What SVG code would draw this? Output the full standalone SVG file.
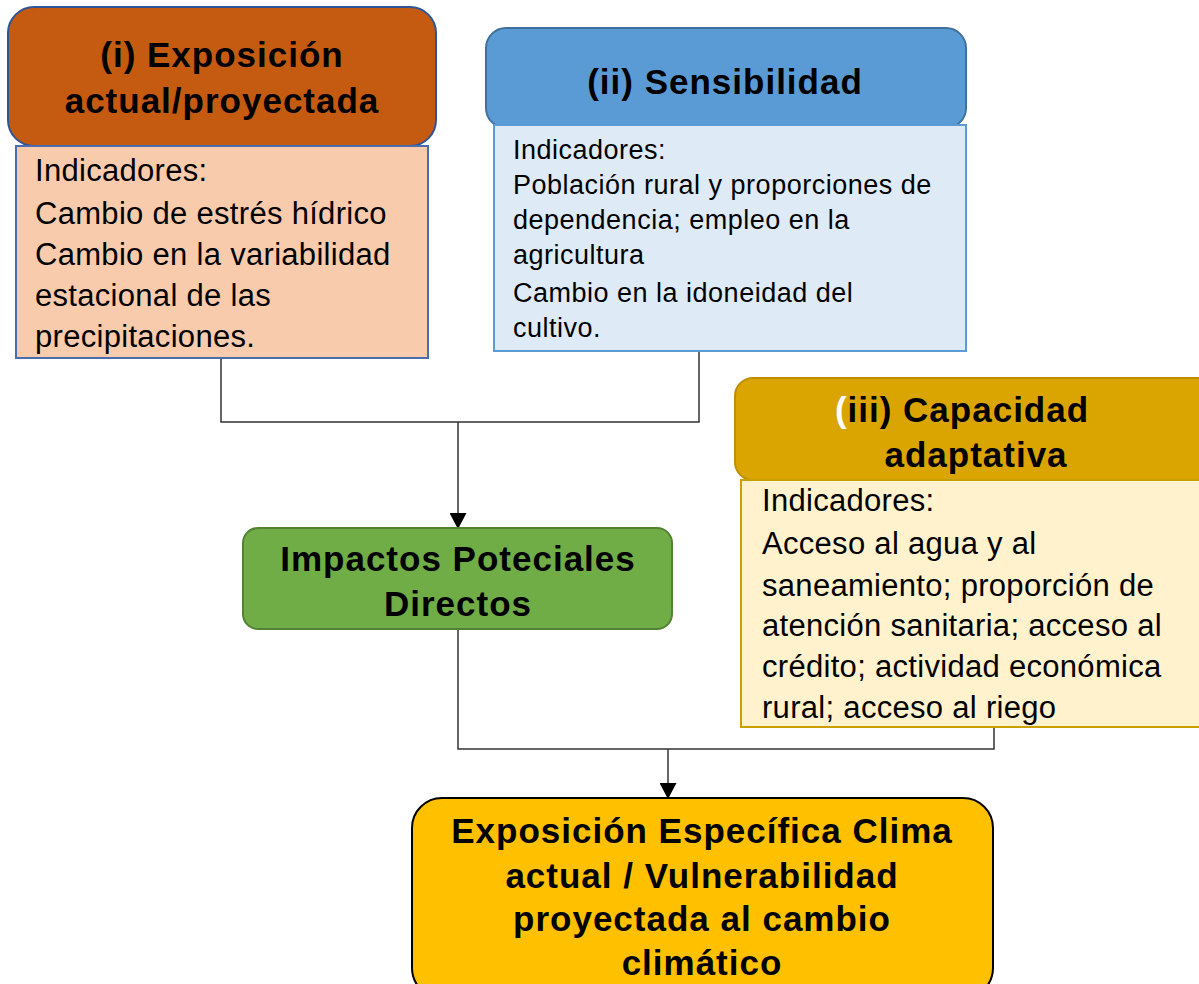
<svg xmlns="http://www.w3.org/2000/svg" width="1199" height="984" viewBox="0 0 1199 984">
<defs>
<marker id="arr" markerWidth="16" markerHeight="17" refX="16" refY="8.5" orient="auto" markerUnits="userSpaceOnUse" viewBox="0 0 16 17">
<path d="M0,0 L16,8.5 L0,17 Z" fill="#000"/>
</marker>
</defs>
<style>
.h{font-family:"Liberation Sans",Arial,sans-serif;font-weight:bold;font-size:35px;letter-spacing:1px;fill:#000;text-anchor:middle}
.b{font-family:"Liberation Sans",Arial,sans-serif;font-size:31px;letter-spacing:0.3px;fill:#000}
.b2{font-family:"Liberation Sans",Arial,sans-serif;font-size:27px;letter-spacing:0.5px;fill:#000}
.c{fill:none;stroke:#333;stroke-width:1.5}
</style>
<rect width="1199" height="984" fill="#fff"/>
<g id="connectors">
<polyline class="c" points="221,358 221,422 699,422 699,351"/>
<line class="c" x1="458" y1="422" x2="458" y2="529" stroke="#000" marker-end="url(#arr)"/>
<polyline class="c" points="458,629 458,749 994,749 994,727"/>
<line class="c" x1="668" y1="749" x2="668" y2="799" stroke="#000" marker-end="url(#arr)"/>
</g>
<g id="exposicion">
<rect x="8" y="7" width="428" height="139" rx="26" fill="#C55A11" stroke="#2F5597" stroke-width="2"/>
<rect x="16" y="146" width="412" height="212" fill="#F8CBAD" stroke="#4A6DAF" stroke-width="2"/>
<text class="h" x="222" y="67">(i) Exposición</text>
<text class="h" x="222" y="113">actual/proyectada</text>
<text class="b" x="35" y="181">Indicadores:</text>
<text class="b" x="35" y="224">Cambio de estrés hídrico</text>
<text class="b" x="35" y="265">Cambio en la variabilidad</text>
<text class="b" x="35" y="306">estacional de las</text>
<text class="b" x="35" y="347">precipitaciones.</text>
</g>
<g id="sensibilidad">
<rect x="486" y="28" width="480" height="100" rx="20" fill="#5B9BD5" stroke="#41719C" stroke-width="2"/>
<rect x="494" y="125" width="472" height="226" fill="#DEEBF7" stroke="#5B9BD5" stroke-width="2"/>
<text class="h" x="725" y="94">(ii) Sensibilidad</text>
<text class="b2" x="513" y="159">Indicadores:</text>
<text class="b2" x="513" y="194">Población rural y proporciones de</text>
<text class="b2" x="513" y="229">dependencia; empleo en la</text>
<text class="b2" x="513" y="264">agricultura</text>
<text class="b2" x="513" y="302">Cambio en la idoneidad del</text>
<text class="b2" x="513" y="337">cultivo.</text>
</g>
<g id="capacidad">
<rect x="735" y="378" width="490" height="102" rx="18" fill="#DAA500" stroke="#BF9000" stroke-width="2"/>
<rect x="741" y="480" width="480" height="247" fill="#FFF2CC" stroke="#C9A000" stroke-width="2"/>
<text class="h" x="962" y="422"><tspan fill="#fff">(</tspan>iii) Capacidad</text>
<text class="h" x="976" y="467">adaptativa</text>
<text class="b" x="762" y="511">Indicadores:</text>
<text class="b" x="762" y="554">Acceso al agua y al</text>
<text class="b" x="762" y="596">saneamiento; proporción de</text>
<text class="b" x="762" y="636">atención sanitaria; acceso al</text>
<text class="b" x="762" y="677">crédito; actividad económica</text>
<text class="b" x="762" y="718">rural; acceso al riego</text>
</g>
<g id="impactos">
<rect x="243" y="528" width="429" height="101" rx="15" fill="#70AD47" stroke="#548235" stroke-width="2"/>
<text class="h" x="458" y="571">Impactos Poteciales</text>
<text class="h" x="458" y="616">Directos</text>
</g>
<g id="vulnerabilidad">
<rect x="412" y="798" width="581" height="200" rx="30" fill="#FFC000" stroke="#000" stroke-width="2"/>
<text class="h" x="702" y="843">Exposición Específica Clima</text>
<text class="h" x="702" y="888">actual / Vulnerabilidad</text>
<text class="h" x="702" y="931">proyectada al cambio</text>
<text class="h" x="702" y="975">climático</text>
</g>
</svg>
